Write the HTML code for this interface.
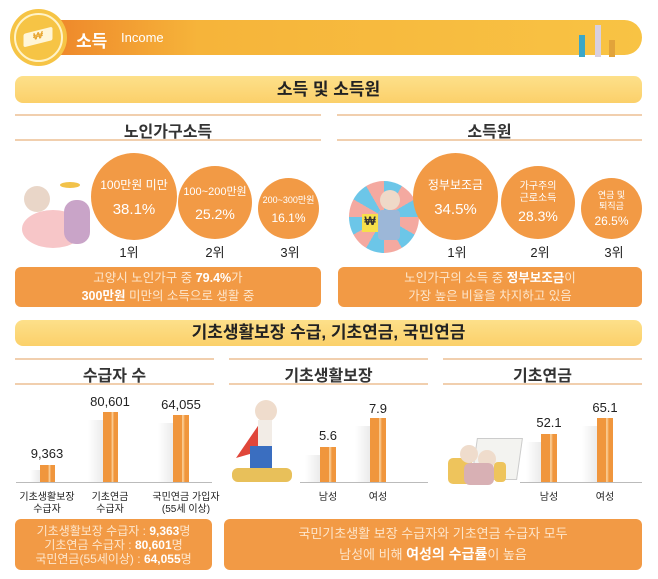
<!DOCTYPE html>
<html><head><meta charset="utf-8"><style>
*{margin:0;padding:0;box-sizing:border-box}
body{width:658px;height:579px;background:#fff;position:relative;overflow:hidden;font-family:"Liberation Sans","Noto Sans CJK KR",sans-serif}
.a{position:absolute}
.c{position:absolute;border-radius:50%;background:#f29a45;color:#fff;text-align:center;display:flex;flex-direction:column;justify-content:center;align-items:center}
.band{position:absolute;left:15px;width:627px;background:linear-gradient(#fde08a,#fbd06a);border-radius:8px;text-align:center;font-weight:bold;font-size:17px;color:#222}
.line{position:absolute;height:2px;background:#f1cfae}
.sub{position:absolute;text-align:center;font-weight:bold;font-size:16px;color:#333}
.rk{position:absolute;font-size:13px;color:#222;width:30px;text-align:center}
.box{position:absolute;background:#f29a45;border-radius:6px;color:#fde6cc;text-align:center;font-size:12.5px;line-height:18px}
.box b{color:#fff}
.bar{position:absolute;background:linear-gradient(90deg,#f0963d 0,#f0963d 55%,#fcd9a8 60%,#f0963d 75%);}
.sh{position:absolute;background:linear-gradient(90deg,rgba(0,0,0,0),rgba(0,0,0,0.08));}
.v{position:absolute;font-size:13px;color:#222;text-align:center;width:60px}
.lb{position:absolute;font-size:10px;color:#222;text-align:center;width:70px;line-height:12px}
</style></head><body>
<div class="a" style="left:50px;top:20px;width:592px;height:35px;border-radius:0 18px 18px 0;background:linear-gradient(90deg,#ee862a,#f6b43a 25%,#f8c344)"></div>
<div class="a" style="left:10px;top:9px;width:57px;height:57px;border-radius:50%;background:#f6c445"></div>
<div class="a" style="left:14px;top:13px;width:49px;height:49px;border-radius:50%;border:2px solid #fff3c8"></div>
<div class="a" style="left:24px;top:30px;width:28px;height:14px;background:#fff6d8;transform:skewX(-15deg) rotate(-15deg);border-radius:2px;font-size:10px;color:#e8a530;text-align:center;line-height:14px;font-weight:bold">₩</div>
<div class="a" style="left:76px;top:27px;font-size:17px;font-weight:bold;color:#fff">소득</div>
<div class="a" style="left:121px;top:30px;font-size:13px;color:#fff">Income</div>
<div class="a" style="left:579px;top:35px;width:6px;height:22px;background:#3aa7c9"></div>
<div class="a" style="left:595px;top:25px;width:6px;height:32px;background:#d8d0e0"></div>
<div class="a" style="left:609px;top:40px;width:6px;height:17px;background:#e2a33a"></div>

<div class="band" style="top:76px;height:27px;line-height:27px">소득 및 소득원</div>
<div class="line" style="left:15px;width:306px;top:114px"></div>
<div class="line" style="left:15px;width:306px;top:139px"></div>
<div class="sub" style="left:15px;width:306px;top:118px">노인가구소득</div>
<div class="line" style="left:337px;width:305px;top:114px"></div>
<div class="line" style="left:337px;width:305px;top:139px"></div>
<div class="sub" style="left:337px;width:305px;top:118px">소득원</div>

<div class="a" style="left:22px;top:210px;width:62px;height:38px;border-radius:50%;background:#f7c6c8"></div>
<div class="a" style="left:24px;top:186px;width:26px;height:26px;border-radius:50%;background:#e9d6c8"></div>
<div class="a" style="left:64px;top:200px;width:26px;height:44px;border-radius:12px;background:#c9a4c8"></div>
<div class="a" style="left:60px;top:182px;width:20px;height:6px;border-radius:50%;background:#f2c24a"></div>

<div class="c" style="left:91px;top:153px;width:86px;height:87px"><div style="font-size:12px">100만원 미만</div><div style="font-size:15px;margin-top:8px">38.1%</div></div>
<div class="c" style="left:178px;top:166px;width:74px;height:73px"><div style="font-size:11px">100~200만원</div><div style="font-size:14px;margin-top:7px">25.2%</div></div>
<div class="c" style="left:258px;top:178px;width:61px;height:61px"><div style="font-size:9px">200~300만원</div><div style="font-size:12px;margin-top:5px">16.1%</div></div>
<div class="rk" style="left:114px;top:242px">1위</div>
<div class="rk" style="left:200px;top:242px">2위</div>
<div class="rk" style="left:275px;top:242px">3위</div>
<div class="box" style="left:15px;top:267px;width:306px;height:40px;padding-top:2px">고양시 노인가구 중 <b>79.4%</b>가<br><b>300만원</b> 미만의 소득으로 생활 중</div>

<div class="a" style="left:349px;top:181px;width:70px;height:72px;border-radius:50%;background:conic-gradient(#6cc6e8 0 30deg,#f4a9a0 0 60deg,#6cc6e8 0 90deg,#f4a9a0 0 120deg,#6cc6e8 0 150deg,#f4a9a0 0 180deg,#6cc6e8 0 210deg,#f4a9a0 0 240deg,#6cc6e8 0 270deg,#f4a9a0 0 300deg,#6cc6e8 0 330deg,#f4a9a0 0)"></div>
<div class="a" style="left:380px;top:190px;width:20px;height:20px;border-radius:50%;background:#efd9c8"></div>
<div class="a" style="left:378px;top:210px;width:22px;height:30px;background:#9cb7d8;border-radius:4px"></div>
<div class="a" style="left:362px;top:214px;width:16px;height:18px;background:#f6e04a;font-size:12px;font-weight:bold;text-align:center;color:#333">₩</div>

<div class="c" style="left:413px;top:153px;width:85px;height:87px"><div style="font-size:12px">정부보조금</div><div style="font-size:15px;margin-top:8px">34.5%</div></div>
<div class="c" style="left:501px;top:166px;width:74px;height:73px"><div style="font-size:10px;line-height:12px">가구주의<br>근로소득</div><div style="font-size:14px;margin-top:3px">28.3%</div></div>
<div class="c" style="left:581px;top:178px;width:61px;height:61px"><div style="font-size:9px;line-height:11px">연금 및<br>퇴직금</div><div style="font-size:12px;margin-top:2px">26.5%</div></div>
<div class="rk" style="left:442px;top:242px">1위</div>
<div class="rk" style="left:525px;top:242px">2위</div>
<div class="rk" style="left:599px;top:242px">3위</div>
<div class="box" style="left:338px;top:267px;width:304px;height:40px;padding-top:2px">노인가구의 소득 중 <b>정부보조금</b>이<br>가장 높은 비율을 차지하고 있음</div>

<div class="band" style="top:320px;height:26px;line-height:26px">기초생활보장 수급, 기초연금, 국민연금</div>
<div class="line" style="left:15px;width:199px;top:358px"></div>
<div class="line" style="left:15px;width:199px;top:383px"></div>
<div class="sub" style="left:15px;width:199px;top:362px">수급자 수</div>
<div class="line" style="left:229px;width:199px;top:358px"></div>
<div class="line" style="left:229px;width:199px;top:383px"></div>
<div class="sub" style="left:229px;width:199px;top:362px">기초생활보장</div>
<div class="line" style="left:443px;width:199px;top:358px"></div>
<div class="line" style="left:443px;width:199px;top:383px"></div>
<div class="sub" style="left:443px;width:199px;top:362px">기초연금</div>

<div class="a" style="left:16px;top:482px;width:196px;height:1px;background:#bbb"></div>
<div class="sh" style="left:30px;top:470px;width:10px;height:12px"></div>
<div class="bar" style="left:40px;top:465px;width:15px;height:17px"></div>
<div class="sh" style="left:88px;top:420px;width:15px;height:62px"></div>
<div class="bar" style="left:103px;top:412px;width:15px;height:70px"></div>
<div class="sh" style="left:158px;top:423px;width:15px;height:59px"></div>
<div class="bar" style="left:173px;top:415px;width:16px;height:67px"></div>
<div class="v" style="left:17px;top:446px">9,363</div>
<div class="v" style="left:80px;top:394px">80,601</div>
<div class="v" style="left:151px;top:397px">64,055</div>
<div class="lb" style="left:12px;top:492px">기초생활보장<br>수급자</div>
<div class="lb" style="left:75px;top:492px">기초연금<br>수급자</div>
<div class="lb" style="left:146px;top:492px;width:80px">국민연금 가입자<br>(55세 이상)</div>

<div class="a" style="left:300px;top:482px;width:128px;height:1px;background:#bbb"></div>
<div class="sh" style="left:305px;top:455px;width:15px;height:27px"></div>
<div class="bar" style="left:320px;top:447px;width:16px;height:35px"></div>
<div class="sh" style="left:355px;top:426px;width:15px;height:56px"></div>
<div class="bar" style="left:370px;top:418px;width:16px;height:64px"></div>
<div class="v" style="left:298px;top:428px">5.6</div>
<div class="v" style="left:348px;top:401px">7.9</div>
<div class="lb" style="left:293px;top:492px">남성</div>
<div class="lb" style="left:343px;top:492px">여성</div>
<div class="a" style="left:255px;top:400px;width:22px;height:22px;border-radius:50%;background:#efdccc"></div>
<div class="a" style="left:236px;top:420px;width:26px;height:38px;background:#e0463a;clip-path:polygon(100% 0,0 100%,100% 80%)"></div>
<div class="a" style="left:258px;top:420px;width:14px;height:26px;background:#f2ece6"></div>
<div class="a" style="left:250px;top:446px;width:22px;height:22px;background:#3a6ec0"></div>
<div class="a" style="left:232px;top:468px;width:60px;height:14px;border-radius:6px;background:#e8c05a"></div>

<div class="a" style="left:520px;top:482px;width:122px;height:1px;background:#bbb"></div>
<div class="sh" style="left:526px;top:442px;width:15px;height:40px"></div>
<div class="bar" style="left:541px;top:434px;width:16px;height:48px"></div>
<div class="sh" style="left:582px;top:426px;width:15px;height:56px"></div>
<div class="bar" style="left:597px;top:418px;width:16px;height:64px"></div>
<div class="v" style="left:519px;top:415px">52.1</div>
<div class="v" style="left:575px;top:400px">65.1</div>
<div class="lb" style="left:514px;top:492px">남성</div>
<div class="lb" style="left:570px;top:492px">여성</div>
<div class="a" style="left:474px;top:438px;width:46px;height:42px;background:#f3f3f0;border:1px solid #ccc;transform:skewX(-8deg)"></div>
<div class="a" style="left:448px;top:458px;width:24px;height:26px;border-radius:5px;background:#eec45c"></div>
<div class="a" style="left:460px;top:445px;width:18px;height:18px;border-radius:50%;background:#efdccc"></div>
<div class="a" style="left:478px;top:450px;width:18px;height:18px;border-radius:50%;background:#efdccc"></div>
<div class="a" style="left:464px;top:463px;width:30px;height:22px;border-radius:6px;background:#d8b0b4"></div>
<div class="a" style="left:494px;top:462px;width:12px;height:20px;border-radius:4px;background:#eec45c"></div>

<div class="box" style="left:15px;top:519px;width:197px;height:51px;padding-top:5px;line-height:14px;font-size:12px">기초생활보장 수급자 : <b>9,363</b>명<br>기초연금 수급자 : <b>80,601</b>명<br>국민연금(55세이상) : <b>64,055</b>명</div>
<div class="box" style="left:224px;top:519px;width:418px;height:51px;padding-top:5px;line-height:20px;font-size:13px">국민기초생활 보장 수급자와 기초연금 수급자 모두<br>남성에 비해 <b style="font-size:14px">여성의 수급률</b>이 높음</div>
</body></html>
